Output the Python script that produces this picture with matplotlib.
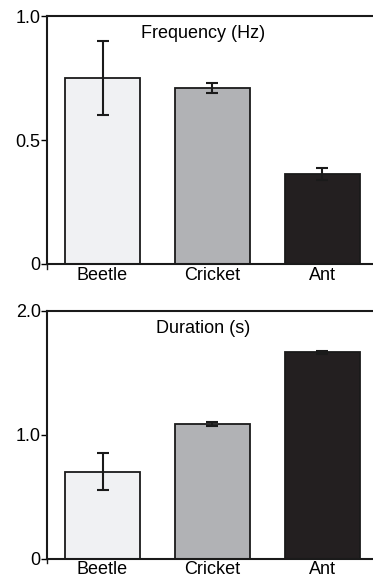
import matplotlib
matplotlib.use("Agg")
import matplotlib.pyplot as plt

plt.rcParams['font.family'] = ['Liberation Sans', 'DejaVu Sans']

insects = ["Beetle", "Cricket", "Ant"]
colors = ["#f0f1f3", "#b1b2b5", "#231f20"]

freq = [0.75, 0.71, 0.364]
freq_err = [0.15, 0.02, 0.025]

dur = [0.70, 1.086, 1.665]
dur_err = [0.15, 0.015, 0.015]

fig = plt.figure(figsize=(3.73, 5.8), dpi=100)
ax1 = fig.add_axes([0.126, 0.545, 0.874, 0.427])
ax2 = fig.add_axes([0.126, 0.037, 0.874, 0.427])


def panel(ax, vals, errs, top, ticks, ticklabels, title):
    x = list(range(len(insects)))
    ax.bar(x, vals, width=0.68, color=colors, edgecolor="#1a1a1a", linewidth=1.3, zorder=2)
    ax.errorbar(x, vals, yerr=errs, fmt="none", ecolor="#1a1a1a", elinewidth=1.5,
                capsize=4, capthick=1.5, zorder=3)
    ax.set_xlim(-0.505, 2.46)
    ax.set_ylim(0, top)
    ax.set_yticks(ticks)
    ax.set_yticklabels(ticklabels)
    ax.set_xticks(x)
    ax.set_xticklabels(insects)
    ax.tick_params(axis="x", length=0, pad=2, labelsize=13)
    ax.tick_params(axis="y", length=4, width=1, pad=0.5, labelsize=13)
    ax.spines["right"].set_visible(False)
    for s in ["left", "top", "bottom"]:
        ax.spines[s].set_linewidth(1.5)
        ax.spines[s].set_color("#1a1a1a")
    ax.plot([-0.505, -0.505], [0, -0.02 * top], color="#1a1a1a", lw=1, clip_on=False)
    ax.text(0.48, 0.93, title, transform=ax.transAxes, ha="center", va="center", fontsize=13)


panel(ax1, freq, freq_err, 1.0, [0, 0.5, 1.0], ["0", "0.5", "1.0"], "Frequency (Hz)")
panel(ax2, dur, dur_err, 2.0, [0, 1.0, 2.0], ["0", "1.0", "2.0"], "Duration (s)")

fig.savefig("out.png", dpi=100)
